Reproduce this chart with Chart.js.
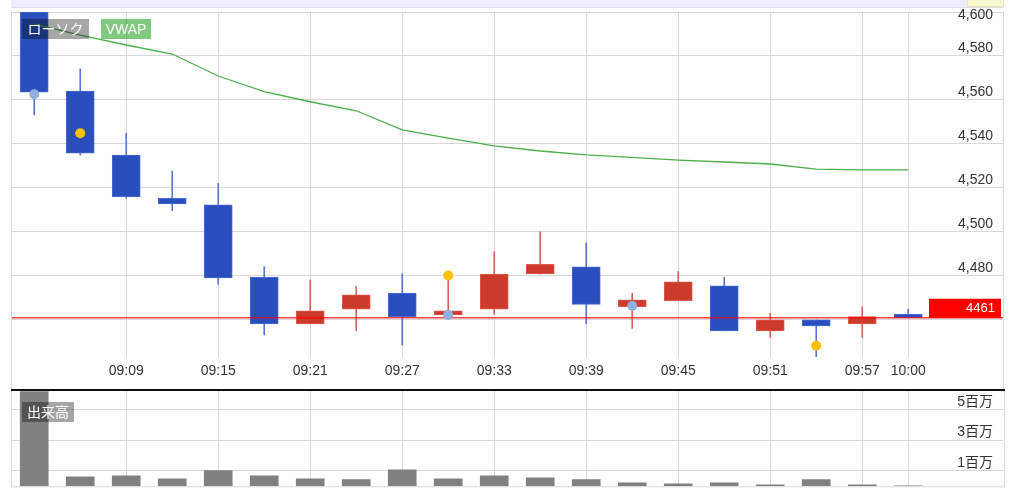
<!DOCTYPE html>
<html>
<head>
<meta charset="utf-8">
<script src="https://cdn.jsdelivr.net/npm/chart.js@4.4.1/dist/chart.umd.min.js"></script>
<style>
body { margin: 0; background: #fff; width: 1024px; height: 503px; overflow: hidden; position: relative;
  font-family: "Liberation Sans", "Noto Sans CJK JP", sans-serif; }
#band { position: absolute; left: 11px; top: 0; width: 992px; height: 7px; background: #ededfb; border-bottom: 1px solid #dcdcea; }
#knob { position: absolute; left: 967px; top: 0; width: 35px; height: 6px; background: #fafad2; border: 1px solid #e6e6b0; border-top: 0; }
#priceBox { position: absolute; left: 0; top: 0; }
#volBox { position: absolute; left: 0; top: 388px; }
.tag { position: absolute; height: 20px; line-height: 20px; color: #fff; font-size: 14px; text-align: center; }
</style>
</head>
<body>
<div id="band"></div>
<div id="knob"></div>
<canvas id="priceBox" width="1024" height="390"></canvas>
<canvas id="volBox" width="1024" height="115"></canvas>
<div class="tag" style="left:22px;top:19px;width:67px;background:rgba(0,0,0,0.35)">ローソク</div>
<div class="tag" style="left:101px;top:19px;width:50px;background:rgba(0,150,0,0.5)">VWAP</div>
<div class="tag" style="left:22px;top:402px;width:52px;background:rgba(0,0,0,0.35)">出来高</div>
<script>
// 3-minute candles, 09:03 - 10:00
const times = ['09:03', '09:06', '09:09', '09:12', '09:15', '09:18', '09:21', '09:24', '09:27', '09:30',
  '09:33', '09:36', '09:39', '09:42', '09:45', '09:48', '09:51', '09:54', '09:57', '10:00'];
const opens  = [4600, 4564, 4535, 4515.3, 4512.3, 4479.4, 4458.2, 4464.9, 4472.1, 4462.3,
  4464.9, 4480.9, 4484.2, 4466, 4468.8, 4475.5, 4455, 4460, 4458.2, 4462.5];
const highs  = [4600, 4574.1, 4544.9, 4527.7, 4522.1, 4484.2, 4478.2, 4475.2, 4480.9, 4480.2,
  4491, 4500.1, 4495.1, 4472.1, 4482, 4479.4, 4463, 4460, 4466, 4464.9];
const lows   = [4553.2, 4535, 4515.3, 4509.7, 4476.2, 4453.2, 4458.2, 4455.1, 4448.6, 4462.3,
  4462.5, 4480.9, 4458.2, 4456.2, 4468.8, 4455, 4452, 4443.3, 4452, 4461];
const closes = [4563.6, 4535.8, 4516, 4512.7, 4479.1, 4458.2, 4464.1, 4471.4, 4461.5, 4464.2,
  4480.9, 4485.3, 4467.1, 4469.1, 4477.3, 4455, 4460, 4457.3, 4461.5, 4461];
const vwap   = [4594.5, 4589.5, 4585, 4580.9, 4570.9, 4563.8, 4559.2, 4555.1, 4546.4, 4542.7,
  4539.1, 4536.8, 4535, 4533.9, 4532.7, 4531.8, 4530.9, 4528.6, 4528.2, 4528.2];
// volume in millions of shares
const volumes = [6.2, 0.62, 0.69, 0.49, 1.02, 0.69, 0.49, 0.43, 1.08, 0.49,
  0.69, 0.56, 0.43, 0.23, 0.16, 0.23, 0.1, 0.43, 0.1, 0.03];
// signal dots (candle index, price)
const blueDotIdx = [0, 9, 13];
const blueDotVal = [4562.6, 4462.3, 4466.4];
const goldDotIdx = [1, 9, 17];
const goldDotVal = [4544.9, 4480.2, 4448.3];
const lastPrice = 4461;
const priceTicks = [4600, 4580, 4560, 4540, 4520, 4500, 4480, 4460];
const volTicks = [1, 3, 5];
const xTickIdx = [2, 4, 6, 8, 10, 12, 14, 16, 18, 19];

const UP = '#cb3a2b', DOWN = '#2a4fbd';
const UP_WICK = '#d8635a', DOWN_WICK = '#5878d8';
const GRID = '#d8d8d8';
const X_MIN = -0.505, X_MAX = 21.06;

Chart.defaults.font.family = '"Liberation Sans", "Noto Sans CJK JP", sans-serif';
Chart.defaults.animation = false;

const isUp = (i) => closes[i] >= opens[i];

function fmt(v) { return v.toLocaleString('en-US'); }

// right-side labels drawn just above their grid line
function sideLabels(ticks, text) {
  return {
    id: 'sideLabels',
    afterDatasetsDraw(chart) {
      const { ctx, chartArea, scales } = chart;
      ctx.save();
      ctx.font = '14px "Liberation Sans", "Noto Sans CJK JP", sans-serif';
      ctx.fillStyle = '#333';
      ctx.textAlign = 'right';
      ctx.textBaseline = 'middle';
      ticks.forEach(v => {
        const y = Math.max(scales.y.getPixelForValue(v) - 8, chartArea.top + 3);
        ctx.fillText(text(v), chartArea.right - 10, y);
      });
      ctx.restore();
    }
  };
}

const frame = {
  id: 'frame',
  afterDraw(chart) {
    const { ctx, chartArea } = chart;
    ctx.save();
    ctx.strokeStyle = GRID;
    ctx.lineWidth = 1;
    ctx.beginPath();
    ctx.moveTo(chartArea.left + 0.5, chartArea.top);
    ctx.lineTo(chartArea.left + 0.5, chart.height);
    ctx.moveTo(chartArea.right + 0.5, chartArea.top);
    ctx.lineTo(chartArea.right + 0.5, chart.height);
    ctx.stroke();
    ctx.restore();
  }
};

const priceTag = {
  id: 'priceTag',
  afterDraw(chart) {
    const { ctx, chartArea, scales } = chart;
    const y = scales.y.getPixelForValue(lastPrice);
    ctx.save();
    ctx.fillStyle = '#ff0000';
    ctx.fillRect(chartArea.right - 74, y - 19, 72, 19);
    ctx.fillStyle = '#fff';
    ctx.font = '13px "Liberation Sans", sans-serif';
    ctx.textAlign = 'right';
    ctx.textBaseline = 'middle';
    ctx.fillText(String(lastPrice), chartArea.right - 8, y - 9);
    ctx.restore();
  }
};

new Chart(document.getElementById('priceBox'), {
  type: 'bar',
  data: {
    datasets: [
      {
        type: 'scatter', order: 0, showLine: false,
        data: blueDotIdx.map((x, k) => ({ x: x, y: blueDotVal[k] })),
        pointRadius: 5, pointBackgroundColor: '#8fb0dc', pointBorderWidth: 0
      },
      {
        type: 'scatter', order: 0, showLine: false,
        data: goldDotIdx.map((x, k) => ({ x: x, y: goldDotVal[k] })),
        pointRadius: 5, pointBackgroundColor: '#ffc000', pointBorderWidth: 0
      },
      {
        type: 'line', order: 1,
        data: [{ x: X_MIN, y: lastPrice }, { x: X_MAX, y: lastPrice }],
        borderColor: 'rgba(255,0,0,0.75)', borderWidth: 1.5, pointRadius: 0
      },
      {
        type: 'line', order: 2,
        data: vwap.map((v, i) => ({ x: i, y: v })),
        borderColor: '#4cae4c', borderWidth: 1.3, pointRadius: 0, tension: 0
      },
      {
        order: 3, grouped: false, barThickness: 28,
        data: times.map((t, i) => ({ x: i, y: [opens[i], closes[i]] })),
        backgroundColor: times.map((t, i) => isUp(i) ? UP : DOWN),
        borderColor: times.map((t, i) => isUp(i) ? '#dc5a4c' : '#4468d0'),
        borderWidth: 1, borderSkipped: false
      },
      {
        order: 4, grouped: false, barThickness: 1,
        data: times.map((t, i) => ({ x: i, y: [lows[i], highs[i]] })),
        backgroundColor: times.map((t, i) => isUp(i) ? UP_WICK : DOWN_WICK)
      }
    ]
  },
  options: {
    responsive: false,
    layout: { padding: { left: 11, right: 21, top: 12, bottom: 0 } },
    plugins: { legend: { display: false }, tooltip: { enabled: false } },
    scales: {
      x: {
        type: 'linear', min: X_MIN, max: X_MAX, offset: false,
        afterBuildTicks: s => { s.ticks = xTickIdx.map(v => ({ value: v })); },
        afterFit: s => { s.height = 32; },
        ticks: { callback: v => times[v], autoSkip: false, maxRotation: 0, padding: 5,
          color: '#333', font: { size: 14 } },
        grid: { color: GRID, drawTicks: false, offset: false },
        border: { display: false }
      },
      y: {
        position: 'right', min: 4442.7, max: 4600,
        afterBuildTicks: s => { s.ticks = priceTicks.map(v => ({ value: v })); },
        afterFit: s => { s.width = 0; },
        ticks: { display: false },
        grid: { color: GRID, drawTicks: false },
        border: { display: false }
      }
    }
  },
  plugins: [sideLabels(priceTicks, fmt), frame, priceTag]
});

const volFrame = {
  id: 'volFrame',
  afterDraw(chart) {
    const { ctx, chartArea } = chart;
    ctx.save();
    ctx.strokeStyle = GRID;
    ctx.lineWidth = 1;
    ctx.beginPath();
    ctx.moveTo(chartArea.left + 0.5, chartArea.top);
    ctx.lineTo(chartArea.left + 0.5, chartArea.bottom);
    ctx.moveTo(chartArea.right + 1.5, chartArea.top);
    ctx.lineTo(chartArea.right + 1.5, chartArea.bottom);
    ctx.moveTo(chartArea.left, chartArea.bottom + 0.5);
    ctx.lineTo(chartArea.right + 2, chartArea.bottom + 0.5);
    ctx.stroke();
    ctx.strokeStyle = '#111';
    ctx.lineWidth = 2;
    ctx.beginPath();
    ctx.moveTo(chartArea.left, chartArea.top);
    ctx.lineTo(chartArea.right + 2, chartArea.top);
    ctx.stroke();
    ctx.restore();
  }
};

new Chart(document.getElementById('volBox'), {
  type: 'bar',
  data: {
    datasets: [{
      data: times.map((t, i) => ({ x: i, y: volumes[i] })),
      backgroundColor: '#808080', barThickness: 28
    }]
  },
  options: {
    responsive: false,
    layout: { padding: { left: 11, right: 21, top: 2, bottom: 0 } },
    plugins: { legend: { display: false }, tooltip: { enabled: false } },
    scales: {
      x: {
        type: 'linear', min: X_MIN, max: X_MAX, offset: false,
        afterBuildTicks: s => { s.ticks = xTickIdx.map(v => ({ value: v })); },
        afterFit: s => { s.height = 16.75; },
        ticks: { display: false },
        grid: { color: GRID, drawTicks: false, offset: false },
        border: { display: false }
      },
      y: {
        position: 'right', min: 0, max: 6.31,
        afterBuildTicks: s => { s.ticks = volTicks.map(v => ({ value: v })); },
        afterFit: s => { s.width = 0; },
        ticks: { display: false },
        grid: { color: GRID, drawTicks: false },
        border: { display: false }
      }
    }
  },
  plugins: [sideLabels(volTicks, v => v + '百万'), volFrame]
});
</script>
</body>
</html>
